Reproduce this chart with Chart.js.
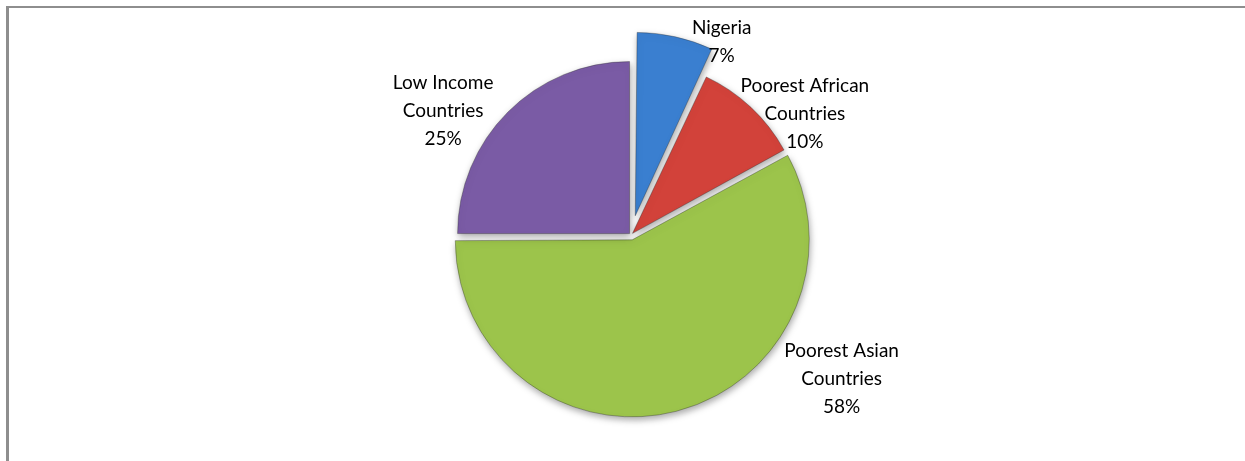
<!DOCTYPE html>
<html>
<head>
<meta charset="utf-8">
<script src="https://cdn.jsdelivr.net/npm/chart.js@4/dist/chart.umd.min.js"></script>
<style>
  html, body { margin: 0; padding: 0; background: #fff; }
  #frame {
    position: absolute; left: 6px; top: 6px; right: 0; bottom: 0;
    border-top: 2px solid #8e8e8e; border-left: 3px solid #8e8e8e;
  }
  #wrap { position: absolute; left: 0; top: 0; width: 1245px; height: 461px; }
</style>
</head>
<body>
<div id="frame"></div>
<div id="wrap"><canvas id="pie"></canvas></div>
<script>
// share of people, by group
const groups = ['Nigeria', 'Poorest African Countries', 'Poorest Asian Countries', 'Low Income Countries'];
const shares = [7, 10, 58, 25];

// label text, one entry per line
const labelLines = [
  ['Nigeria', '7%'],
  ['Poorest African', 'Countries', '10%'],
  ['Poorest Asian', 'Countries', '58%'],
  ['Low Income', 'Countries', '25%']
];

const baseColors = ['#3a7fd0', '#d2423a', '#9cc44b', '#7a5ba5'];
const explode = [79, 9, 20, 8];

function shade(hex, amt) {
  const n = parseInt(hex.slice(1), 16);
  let r = n >> 16, g = (n >> 8) & 255, b = n & 255;
  const t = amt < 0 ? 0 : 255, p = Math.abs(amt);
  r = Math.round((t - r) * p + r);
  g = Math.round((t - g) * p + g);
  b = Math.round((t - b) * p + b);
  return 'rgb(' + r + ',' + g + ',' + b + ')';
}

// vertical extent of a sector, to spread the gradient over it
function sectorYRange(cy, r, a0, a1) {
  const ys = [cy, cy + r * Math.sin(a0), cy + r * Math.sin(a1)];
  for (let k = -4; k <= 4; k++) {
    const a = k * Math.PI / 2;
    if (a > a0 && a < a1) ys.push(cy + r * Math.sin(a));
  }
  return [Math.min(...ys), Math.max(...ys)];
}

function sliceFill(context) {
  const i = context.dataIndex;
  const base = baseColors[i];
  const chart = context.chart;
  const arc = chart.getDatasetMeta(0).data[i];
  if (!chart.chartArea || !arc || !arc.outerRadius) return base;
  const [y0, y1] = sectorYRange(arc.y, arc.outerRadius, arc.startAngle, arc.endAngle);
  const g = chart.ctx.createLinearGradient(0, y0 - 30, 0, y1 + 30);
  g.addColorStop(0, shade(base, 0.35));
  g.addColorStop(0.12, shade(base, 0.14));
  g.addColorStop(0.5, base);
  g.addColorStop(0.88, shade(base, -0.12));
  g.addColorStop(1, shade(base, -0.25));
  return g;
}

// soft drop shadow under the slices
const sliceShadow = {
  id: 'sliceShadow',
  beforeDatasetsDraw(chart) {
    const ctx = chart.ctx;
    ctx.save();
    ctx.shadowColor = 'rgba(0,0,0,0.35)';
    ctx.shadowBlur = 7;
    ctx.shadowOffsetX = 1;
    ctx.shadowOffsetY = 3;
  },
  afterDatasetsDraw(chart) {
    chart.ctx.restore();
  }
};

// category name and percentage next to each slice
const sliceLabels = {
  id: 'sliceLabels',
  afterDraw(chart, args, opts) {
    const ctx = chart.ctx;
    const arcs = chart.getDatasetMeta(0).data;
    ctx.save();
    ctx.font = opts.font;
    ctx.fillStyle = opts.color;
    ctx.textAlign = 'center';
    ctx.textBaseline = 'middle';
    arcs.forEach((arc, i) => {
      const p = opts.placement[i];
      const a = p.angle * Math.PI / 180;
      const x = arc.x + p.dist * Math.sin(a);
      const y = arc.y - p.dist * Math.cos(a);
      const lines = labelLines[i];
      const top = y - (lines.length - 1) * opts.lineHeight / 2;
      lines.forEach((t, k) => ctx.fillText(t, x, top + k * opts.lineHeight));
    });
    ctx.restore();
  }
};

new Chart(document.getElementById('pie'), {
  type: 'pie',
  data: {
    labels: groups,
    datasets: [{
      data: shares,
      radius: 172,
      backgroundColor: sliceFill,
      borderColor: 'rgba(40,40,40,0.35)',
      borderWidth: 1,
      offset: explode
    }]
  },
  options: {
    responsive: true,
    maintainAspectRatio: false,
    animation: false,
    layout: { padding: { left: 17, top: 9, right: 0, bottom: 0 } },
    plugins: {
      legend: { display: false },
      tooltip: { enabled: false },
      sliceLabels: {
        font: '19px Lato',
        color: '#000',
        lineHeight: 28,
        placement: [
          { angle: 25.2, dist: 213 },
          { angle: 55.1, dist: 212 },
          { angle: 124.3, dist: 255 },
          { angle: 303.4, dist: 225 }
        ]
      }
    }
  },
  plugins: [sliceShadow, sliceLabels]
});
</script>
</body>
</html>
